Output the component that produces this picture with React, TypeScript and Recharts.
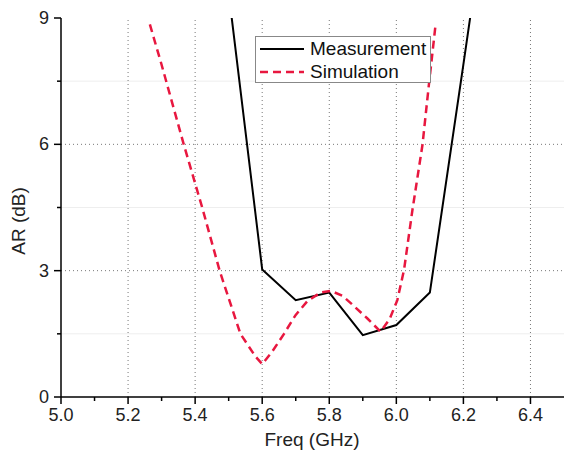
import React from "react";
import { LineChart, Line, XAxis, YAxis, ReferenceLine, Legend } from "recharts";

// measured axial ratio
const measFreq = [5.5, 5.6, 5.7, 5.8, 5.9, 6.0, 6.1, 6.2, 6.3];
const measAR = [9.6, 3.03, 2.3, 2.48, 1.47, 1.71, 2.48, 7.9, 13.4];

// simulated axial ratio
const simFreq = [5.265, 5.3, 5.366, 5.42, 5.473, 5.535, 5.555, 5.58, 5.6, 5.63, 5.665, 5.7, 5.734, 5.774, 5.805, 5.84, 5.864, 5.913, 5.953, 5.98, 6.003, 6.023, 6.048, 6.078, 6.097, 6.117];
const simAR = [8.85, 7.89, 6.0, 4.53, 3.0, 1.5, 1.26, 0.96, 0.78, 1.08, 1.5, 1.95, 2.27, 2.48, 2.52, 2.4, 2.23, 1.87, 1.55, 1.85, 2.3, 3.02, 4.44, 5.99, 7.41, 8.84];

const xTicks = [5.0, 5.1, 5.2, 5.3, 5.4, 5.5, 5.6, 5.7, 5.8, 5.9, 6.0, 6.1, 6.2, 6.3, 6.4];
const yTicks = [0, 1.5, 3, 4.5, 6, 7.5, 9];
const xGrid = [5.2, 5.4, 5.6, 5.8, 6.0, 6.2, 6.4];
const yGrid = [3, 6];
const yMinorGrid = [1.5, 4.5, 7.5];

const measData = measFreq.map((f, i) => ({ f, ar: measAR[i] }));
const simData = simFreq.map((f, i) => ({ f, ar: simAR[i] }));

const font = "'Liberation Sans', Arial, sans-serif";
const simColor = "#e8173f";

const XTick = ({ x, y, payload }: any) => {
  const v = payload.value;
  const major = Math.round(v * 10) % 2 === 0;
  return (
    <g>
      <line x1={x} x2={x} y1={y} y2={y + (major ? 7 : 4)} stroke="#000" strokeWidth={1.5} />
      {major && (
        <text x={x} y={y + 24} textAnchor="middle" fontSize={18} fill="#222" fontFamily={font}>
          {v.toFixed(1)}
        </text>
      )}
    </g>
  );
};

const YTick = ({ x, y, payload }: any) => {
  const v = payload.value;
  const major = v % 3 === 0;
  return (
    <g>
      <line x1={x - (major ? 7 : 4)} x2={x} y1={y} y2={y} stroke="#000" strokeWidth={1.5} />
      {major && (
        <text x={x - 12} y={y + 6} textAnchor="end" fontSize={18} fill="#222" fontFamily={font}>
          {v}
        </text>
      )}
    </g>
  );
};

const LegendBox = () => (
  <div
    style={{
      border: "1px solid #888",
      background: "#fff",
      width: 174,
      height: 45,
      fontFamily: font,
      fontSize: 19,
      color: "#111",
      boxSizing: "content-box",
    }}
  >
    <div style={{ display: "flex", alignItems: "center", height: 23 }}>
      <svg width={50} height={10} style={{ marginLeft: 4 }}>
        <line x1={0} x2={44} y1={5} y2={5} stroke="#000" strokeWidth={2} />
      </svg>
      <span>Measurement</span>
    </div>
    <div style={{ display: "flex", alignItems: "center", height: 23 }}>
      <svg width={50} height={10} style={{ marginLeft: 4 }}>
        <line x1={0} x2={44} y1={5} y2={5} stroke={simColor} strokeWidth={2.5} strokeDasharray="8 5" />
      </svg>
      <span>Simulation</span>
    </div>
  </div>
);

export default function App() {
  return (
    <div style={{ position: "absolute", left: 0, top: 0, background: "#fff" }}>
      <LineChart width={567} height={451} margin={{ top: 18, right: 3, bottom: 0, left: 0 }}>
        <XAxis
          type="number"
          dataKey="f"
          domain={[5.0, 6.5]}
          ticks={xTicks}
          interval={0}
          tickSize={0}
          tickMargin={0}
          height={54}
          tick={<XTick />}
          axisLine={{ stroke: "#000", strokeWidth: 1.5 }}
          allowDataOverflow
          label={() => (
            <text x={312} y={446} textAnchor="middle" fontSize={19} fill="#222" fontFamily={font}>
              Freq (GHz)
            </text>
          )}
        />
        <YAxis
          type="number"
          dataKey="ar"
          domain={[0, 9]}
          ticks={yTicks}
          interval={0}
          tickSize={0}
          tickMargin={0}
          width={61}
          tick={<YTick />}
          axisLine={{ stroke: "#000", strokeWidth: 1.5 }}
          allowDataOverflow
          label={() => (
            <text
              x={25}
              y={221}
              transform="rotate(-90 25 221)"
              textAnchor="middle"
              fontSize={19}
              fill="#222"
              fontFamily={font}
            >
              AR (dB)
            </text>
          )}
        />
        {yMinorGrid.map((v) => (
          <ReferenceLine key={"m" + v} y={v} stroke="#eeeeee" strokeWidth={1} />
        ))}
        {xGrid.map((v) => (
          <ReferenceLine key={"x" + v} x={v} stroke="#777" strokeDasharray="1 3" strokeWidth={1} />
        ))}
        {yGrid.map((v) => (
          <ReferenceLine key={"y" + v} y={v} stroke="#777" strokeDasharray="1 3" strokeWidth={1} />
        ))}
        <Legend
          layout="vertical"
          align="center"
          verticalAlign="middle"
          wrapperStyle={{ left: 255, top: 36, width: "auto" }}
          content={<LegendBox />}
        />
        <Line
          data={measData}
          dataKey="ar"
          type="linear"
          stroke="#000"
          strokeWidth={2}
          dot={false}
          isAnimationActive={false}
        />
        <Line
          data={simData}
          dataKey="ar"
          type="linear"
          stroke={simColor}
          strokeWidth={2.5}
          strokeDasharray="8 5"
          dot={false}
          isAnimationActive={false}
        />
      </LineChart>
    </div>
  );
}
